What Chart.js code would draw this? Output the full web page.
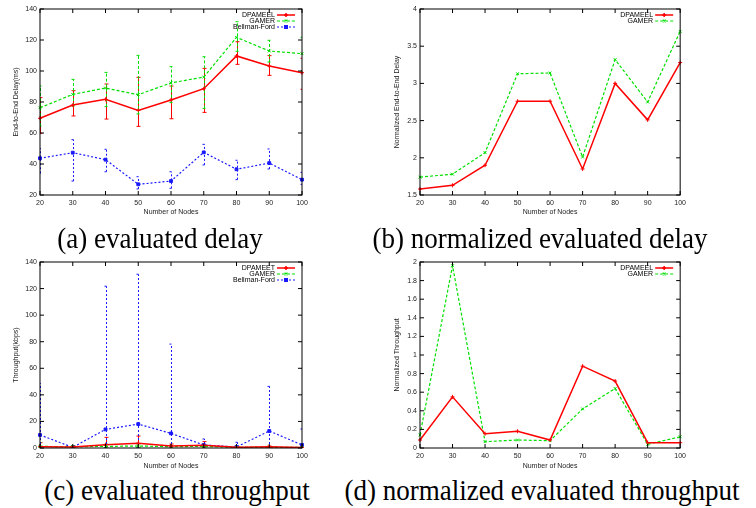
<!DOCTYPE html>
<html>
<head>
<meta charset="utf-8">
<script src="https://cdn.jsdelivr.net/npm/chart.js@4.4.0/dist/chart.umd.min.js"></script>
<style>
  body { margin: 0; background: #fff; width: 756px; height: 508px; position: relative; overflow: hidden; }
  .panel { position: absolute; }
  .cap { position: absolute; font-family: "Liberation Serif", serif; font-size: 30px; line-height: 30px;
         white-space: nowrap; transform: translateX(-50%) scaleX(0.9); color: #000; }
</style>
</head>
<body>
<div class="panel" style="left:0;top:0;width:312px;height:218px"><canvas id="delayChart"></canvas></div>
<div class="panel" style="left:370px;top:0;width:320px;height:218px"><canvas id="normDelayChart"></canvas></div>
<div class="panel" style="left:0;top:250px;width:312px;height:222px"><canvas id="tputChart"></canvas></div>
<div class="panel" style="left:370px;top:250px;width:320px;height:222px"><canvas id="normTputChart"></canvas></div>

<div class="cap" style="left:160px;top:223px">(a) evaluated delay</div>
<div class="cap" style="left:540px;top:223px">(b) normalized evaluated delay</div>
<div class="cap" style="left:177px;top:475px">(c) evaluated throughput</div>
<div class="cap" style="left:542px;top:475px">(d) normalized evaluated throughput</div>

<script>
// x categories (same for all four plots)
const nodes = ['20', '30', '40', '50', '60', '70', '80', '90', '100'];

// (a) end-to-end delay (ms), with error bar ends
const delayDpameel   = [69.5, 78, 81.7, 74.6, 81.3, 88.6, 109.7, 103.2, 98.9];
const delayDpameelLo = [59.8, 71, 69, 64.3, 69.2, 73.3, 104.3, 97.2, 88.2];
const delayDpameelHi = [82.8, 87.3, 91.6, 95.9, 90.3, 101.7, 118.9, 109.9, 108.2];
const delayGamer     = [76.3, 84.9, 89, 84.7, 92.3, 96.1, 121.7, 112.9, 111.2];
const delayGamerLo   = [64.5, 77.4, 77, 72.3, 79.6, 75.9, 112.7, 105.8, 100];
const delayGamerHi   = [90.3, 94.6, 99.1, 110.1, 102.8, 109.2, 131.8, 119.8, 121.7];
const delayBellman   = [43.7, 47.3, 42.8, 26.9, 29, 47.5, 36.6, 40.6, 29.9];
const delayBellmanLo = [34, 29, 35, 23.9, 24.3, 39.4, 29.9, 36.8, 26.9];
const delayBellmanHi = [50.1, 55.7, 49.5, 31.8, 35, 52.7, 42.4, 49.7, 34.6];

// (b) normalized delay
const normDelayDpameel = [1.58, 1.63, 1.90, 2.76, 2.76, 1.85, 3.0, 2.51, 3.28];
const normDelayGamer   = [1.74, 1.78, 2.07, 3.13, 3.14, 2.01, 3.32, 2.75, 3.70];

// (c) throughput (kbps), with error bar ends
const tputDpameet   = [1.0, 0.8, 2.5, 3.5, 1.5, 2.0, 0.5, 1.0, 0.3];
const tputDpameetLo = [0, 0, 0, 0, 0, 0, 0, 0, 0];
const tputDpameetHi = [4, 1.5, 8, 9, 3, 4.8, 1, 1.5, 0.8];
const tputGamer     = [1.2, 1.0, 1.2, 1.5, 1.0, 1.2, 0.5, 0.5, 0.5];
const tputGamerLo   = [0, 0, 0, 0, 0, 0, 0, 0, 0];
const tputGamerHi   = [4, 1.5, 3, 3.5, 2, 2.5, 1, 1, 1];
const tputBellman   = [9.8, 0.5, 14, 18, 11, 2.3, 0.8, 12.8, 2.3];
const tputBellmanLo = [0, 0, 0, 0, 0, 0, 0, 0, 0];
const tputBellmanHi = [48.6, 1.5, 121.8, 130.8, 78.2, 6.8, 4.3, 46.4, 14.3];

// (d) normalized throughput
const normTputDpameel = [0.086, 0.55, 0.154, 0.18, 0.086, 0.88, 0.72, 0.057, 0.057];
const normTputGamer   = [0.14, 1.96, 0.068, 0.086, 0.079, 0.42, 0.64, 0.04, 0.12];

const RED = '#ff0000', GREEN = '#00e000', BLUE = '#1a1aff';
const tickFont = { family: 'Liberation Sans, Arial, sans-serif', size: 7 };

// gnuplot look: error bars, border box, inward ticks, key in the top right corner
const gnuplotLook = {
    id: 'gnuplotLook',
    beforeDatasetsDraw(chart) {
        const { ctx, chartArea: a, scales: { x, y } } = chart;
        ctx.save();
        ctx.beginPath();
        ctx.rect(a.left, a.top, a.right - a.left, a.bottom - a.top);
        ctx.clip();
        chart.data.datasets.forEach(ds => {
            if (!ds.errLo) return;
            ctx.strokeStyle = ds.borderColor;
            ctx.lineWidth = 1;
            ctx.setLineDash(ds.borderDash || []);
            ds.data.forEach((v, i) => {
                const px = Math.round(x.getPixelForValue(i)) + 0.5;
                const lo = y.getPixelForValue(ds.errLo[i]);
                const hi = y.getPixelForValue(ds.errHi[i]);
                ctx.beginPath();
                ctx.moveTo(px, lo); ctx.lineTo(px, hi);
                ctx.moveTo(px - 2, lo); ctx.lineTo(px + 2, lo);
                ctx.moveTo(px - 2, hi); ctx.lineTo(px + 2, hi);
                ctx.stroke();
            });
        });
        ctx.restore();
    },
    afterDraw(chart) {
        const { ctx, chartArea: a, scales: { x, y } } = chart;
        ctx.save();
        ctx.strokeStyle = '#000';
        ctx.lineWidth = 1;
        ctx.setLineDash([]);
        ctx.strokeRect(a.left, a.top, a.right - a.left, a.bottom - a.top);
        ctx.beginPath();
        y.ticks.forEach(t => {
            const py = y.getPixelForValue(t.value);
            ctx.moveTo(a.left, py); ctx.lineTo(a.left + 4, py);
            ctx.moveTo(a.right, py); ctx.lineTo(a.right - 4, py);
        });
        x.ticks.forEach((t, i) => {
            const px = x.getPixelForValue(i);
            ctx.moveTo(px, a.bottom); ctx.lineTo(px, a.bottom - 4);
            ctx.moveTo(px, a.top); ctx.lineTo(px, a.top + 4);
        });
        ctx.stroke();

        // key
        ctx.font = '7px Liberation Sans, Arial, sans-serif';
        ctx.textAlign = 'right';
        ctx.textBaseline = 'middle';
        chart.data.datasets.forEach((ds, i) => {
            const ly = a.top + 6 + i * 6;
            ctx.fillStyle = '#000';
            ctx.fillText(ds.label, a.right - 27, ly);
            ctx.strokeStyle = ds.borderColor;
            ctx.lineWidth = ds.borderWidth;
            ctx.setLineDash(ds.borderDash || []);
            ctx.beginPath();
            ctx.moveTo(a.right - 25, ly); ctx.lineTo(a.right - 7, ly);
            ctx.stroke();
            ctx.setLineDash([]);
            ctx.fillStyle = ds.borderColor;
            Chart.helpers.drawPoint(ctx, { pointStyle: ds.pointStyle, radius: 2, borderWidth: 1, rotation: 0 }, a.right - 16, ly);
        });
        ctx.restore();
    }
};

function line(label, data, color, dash, style, lo, hi) {
    const ds = {
        label: label,
        data: data,
        borderColor: color,
        backgroundColor: color,
        borderWidth: dash.length ? 1.2 : 1.5,
        borderDash: dash,
        pointStyle: style,
        pointRadius: 2,
        pointBorderWidth: 1,
        tension: 0,
    };
    if (lo) { ds.errLo = lo; ds.errHi = hi; }
    return ds;
}

function makeChart(id, datasets, yTitle, yMin, yMax, yStep, pad) {
    new Chart(id, {
        type: 'line',
        data: { labels: nodes, datasets: datasets },
        options: {
            responsive: true,
            maintainAspectRatio: false,
            animation: false,
            layout: { padding: { left: pad.left, right: pad.right, top: pad.top, bottom: 0 } },
            plugins: { legend: { display: false }, tooltip: { enabled: false } },
            scales: {
                x: {
                    offset: false,
                    grid: { display: false, drawTicks: false },
                    border: { display: false },
                    ticks: { font: tickFont, color: '#222', padding: 4, maxRotation: 0, autoSkip: false },
                    title: { display: true, text: 'Number of Nodes', font: tickFont, color: '#222', padding: { top: 2, bottom: 2 } },
                    afterFit: s => { s.height = pad.xh; }
                },
                y: {
                    min: yMin, max: yMax,
                    grid: { display: false, drawTicks: false },
                    border: { display: false },
                    ticks: {
                        stepSize: yStep, font: tickFont, color: '#222', padding: 3,
                        callback: v => String(Number(v.toFixed(2)))  // gnuplot style: "2" not "2.0"
                    },
                    title: { display: true, text: yTitle, font: tickFont, color: '#222', padding: 0 },
                    afterFit: s => { s.width = pad.yw; }
                }
            }
        },
        plugins: [gnuplotLook]
    });
}

makeChart('delayChart', [
    line('DPAMEEL', delayDpameel, RED, [], 'cross', delayDpameelLo, delayDpameelHi),
    line('GAMER', delayGamer, GREEN, [3, 2], 'crossRot', delayGamerLo, delayGamerHi),
    line('Bellman-Ford', delayBellman, BLUE, [2, 2], 'rect', delayBellmanLo, delayBellmanHi)
], 'End-to-End Delay(ms)', 20, 140, 20, { left: 12, right: 10, top: 9, xh: 23, yw: 28 });

makeChart('normDelayChart', [
    line('DPAMEEL', normDelayDpameel, RED, [], 'cross'),
    line('GAMER', normDelayGamer, GREEN, [3, 2], 'crossRot')
], 'Normalized End-to-End Delay', 1.5, 4, 0.5, { left: 23, right: 9, top: 9, xh: 23, yw: 27 });

makeChart('tputChart', [
    line('DPAMEET', tputDpameet, RED, [], 'cross', tputDpameetLo, tputDpameetHi),
    line('GAMER', tputGamer, GREEN, [3, 2], 'crossRot', tputGamerLo, tputGamerHi),
    line('Bellman-Ford', tputBellman, BLUE, [2, 2], 'rect', tputBellmanLo, tputBellmanHi)
], 'Throughput(kbps)', 0, 140, 20, { left: 12, right: 10, top: 12, xh: 24, yw: 28 });

makeChart('normTputChart', [
    line('DPAMEEL', normTputDpameel, RED, [], 'cross'),
    line('GAMER', normTputGamer, GREEN, [3, 2], 'crossRot')
], 'Normalized Throughput', 0, 2, 0.2, { left: 23, right: 8, top: 12, xh: 24, yw: 27 });
</script>
</body>
</html>
